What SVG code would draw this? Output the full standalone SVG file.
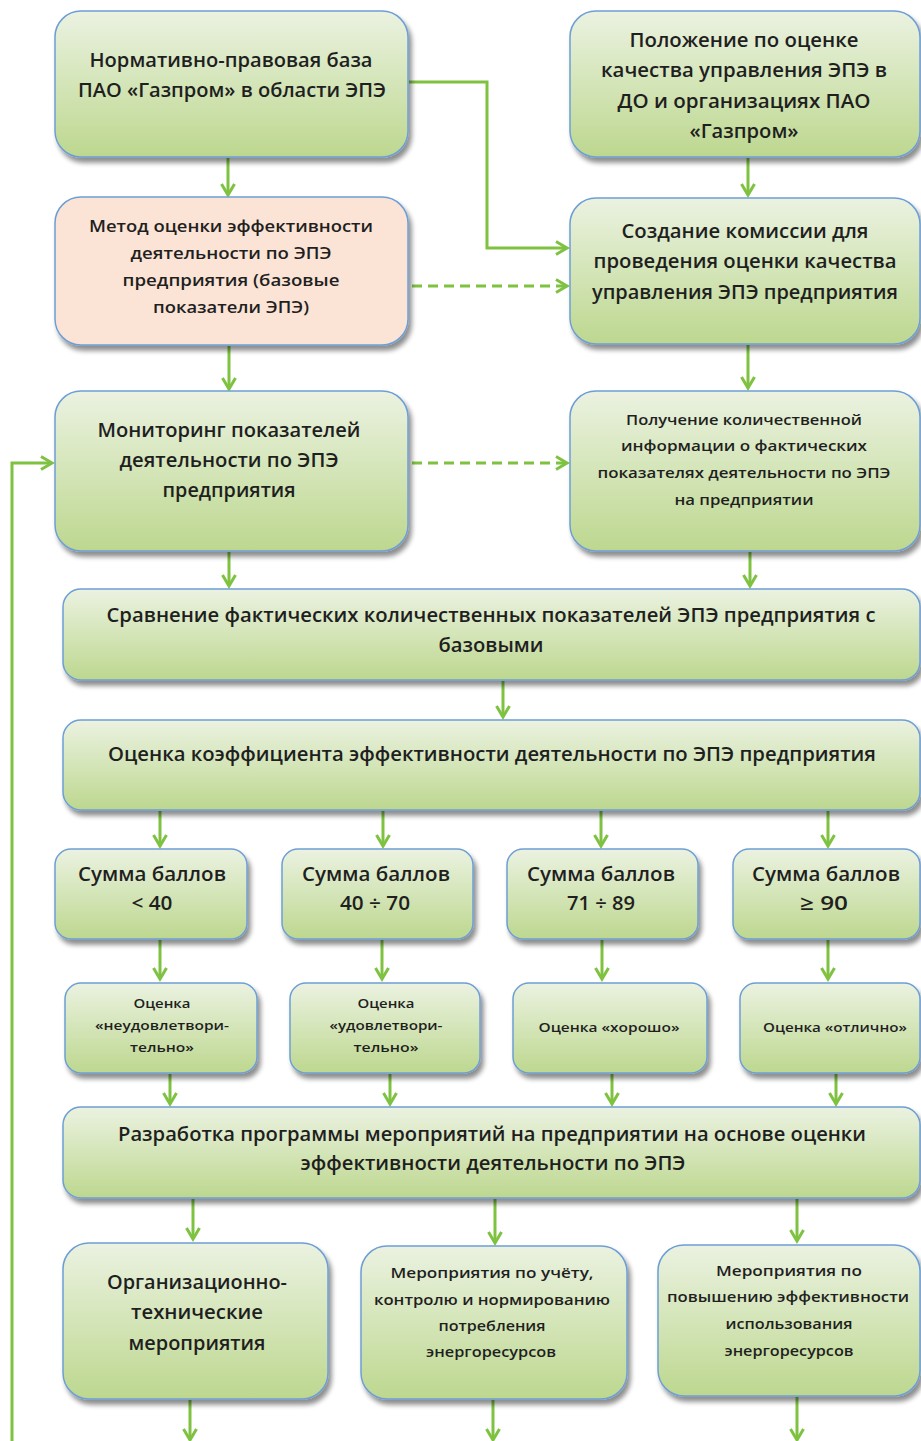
<svg xmlns="http://www.w3.org/2000/svg" width="921" height="1441" viewBox="0 0 921 1441">
<defs>
<linearGradient id="g" x1="0" y1="0" x2="0" y2="1">
<stop offset="0" stop-color="#ebf2e1"/>
<stop offset="0.5" stop-color="#d4e5b8"/>
<stop offset="1" stop-color="#bdd78f"/>
</linearGradient>
<filter id="sh" x="-10%" y="-10%" width="125%" height="135%">
<feGaussianBlur in="SourceAlpha" stdDeviation="2.5"/>
<feOffset dx="3" dy="5" result="b"/>
<feComponentTransfer><feFuncA type="linear" slope="0.45"/></feComponentTransfer>
<feMerge><feMergeNode/><feMergeNode in="SourceGraphic"/></feMerge>
</filter>
<marker id="ah" markerUnits="userSpaceOnUse" markerWidth="18" markerHeight="18" refX="13" refY="8" orient="auto">
<path d="M2,1.5 L13,8 L2,14.5" fill="none" stroke="#7fc241" stroke-width="3" stroke-linejoin="miter"/>
</marker>
</defs>
<style>
.n{fill:url(#g);stroke:#6d9fd5;stroke-width:1.5;filter:url(#sh)}
.p{fill:#fbe4d6;stroke:#6d9fd5;stroke-width:1.5;filter:url(#sh)}
.c{fill:none;stroke:#7fc241;stroke-width:3;marker-end:url(#ah)}
.d{stroke-dasharray:10,6}
text{font-family:"Open Sans","Noto Sans",sans-serif;font-weight:600;fill:#1f1f1f;text-anchor:middle}
.f19{font-size:19px}
.f16{font-size:16px}
.f14{font-size:14px}
.f15{font-size:15px}
.f12{font-size:12px}
.f20{font-size:20px}
</style>

<g id="connectors">
<path class="c" d="M228,158 L228,195"/>
<path class="c" d="M748,158 L748,195"/>
<path class="c" d="M409,82 L487,82 L487,248 L567,248"/>
<path class="c d" d="M412,286 L567,286"/>
<path class="c" d="M229,346 L229,389"/>
<path class="c" d="M748,345 L748,388"/>
<path class="c" d="M12,1441 L12,463 L52,463"/>
<path class="c d" d="M412,463 L567,463"/>
<path class="c" d="M229,552 L229,586"/>
<path class="c" d="M750,552 L750,586"/>
<path class="c" d="M503,681 L503,717"/>
<path class="c" d="M160,811 L160,846"/>
<path class="c" d="M383,811 L383,846"/>
<path class="c" d="M601,811 L601,846"/>
<path class="c" d="M828,811 L828,846"/>
<path class="c" d="M160,940 L160,979"/>
<path class="c" d="M382,940 L382,979"/>
<path class="c" d="M602,940 L602,979"/>
<path class="c" d="M828,940 L828,979"/>
<path class="c" d="M170,1074 L170,1104"/>
<path class="c" d="M390,1074 L390,1104"/>
<path class="c" d="M612,1074 L612,1104"/>
<path class="c" d="M836,1074 L836,1104"/>
<path class="c" d="M193,1199 L193,1239"/>
<path class="c" d="M495,1199 L495,1243"/>
<path class="c" d="M797,1199 L797,1241"/>
<path class="c" d="M190,1400 L190,1440"/>
<path class="c" d="M493,1400 L493,1440"/>
<path class="c" d="M797,1397 L797,1440"/>
</g>

<g id="n1">
<rect class="n" x="55" y="11" width="353" height="146" rx="26"/>
<text class="f19" x="231" y="67" textLength="283" lengthAdjust="spacingAndGlyphs">Нормативно-правовая база</text>
<text class="f19" x="232" y="97" textLength="308" lengthAdjust="spacingAndGlyphs">ПАО «Газпром» в области ЭПЭ</text>
</g>
<g id="n2">
<rect class="n" x="570" y="11" width="350" height="146" rx="26"/>
<text class="f19" x="744" y="47" textLength="229" lengthAdjust="spacingAndGlyphs">Положение по оценке</text>
<text class="f19" x="744" y="77" textLength="286" lengthAdjust="spacingAndGlyphs">качества управления ЭПЭ в</text>
<text class="f19" x="744" y="108" textLength="253" lengthAdjust="spacingAndGlyphs">ДО и организациях ПАО</text>
<text class="f19" x="744" y="138" textLength="109" lengthAdjust="spacingAndGlyphs">«Газпром»</text>
</g>
<g id="n3">
<rect class="p" x="55" y="197" width="353" height="148" rx="26"/>
<text class="f16" x="231" y="232" textLength="284" lengthAdjust="spacingAndGlyphs">Метод оценки эффективности</text>
<text class="f16" x="231" y="259" textLength="201" lengthAdjust="spacingAndGlyphs">деятельности по ЭПЭ</text>
<text class="f16" x="231" y="286" textLength="217" lengthAdjust="spacingAndGlyphs">предприятия (базовые</text>
<text class="f16" x="231" y="313" textLength="156" lengthAdjust="spacingAndGlyphs">показатели ЭПЭ)</text>
</g>
<g id="n4">
<rect class="n" x="570" y="198" width="350" height="146" rx="26"/>
<text class="f19" x="745" y="238" textLength="247" lengthAdjust="spacingAndGlyphs">Создание комиссии для</text>
<text class="f19" x="745" y="268" textLength="303" lengthAdjust="spacingAndGlyphs">проведения оценки качества</text>
<text class="f19" x="745" y="299" textLength="306" lengthAdjust="spacingAndGlyphs">управления ЭПЭ предприятия</text>
</g>
<g id="n5">
<rect class="n" x="55" y="391" width="353" height="160" rx="26"/>
<text class="f19" x="229" y="437" textLength="263" lengthAdjust="spacingAndGlyphs">Мониторинг показателей</text>
<text class="f19" x="229" y="467" textLength="219" lengthAdjust="spacingAndGlyphs">деятельности по ЭПЭ</text>
<text class="f19" x="229" y="497" textLength="133" lengthAdjust="spacingAndGlyphs">предприятия</text>
</g>
<g id="n6">
<rect class="n" x="570" y="391" width="350" height="160" rx="26"/>
<text class="f14" x="744" y="425" textLength="236" lengthAdjust="spacingAndGlyphs">Получение количественной</text>
<text class="f14" x="744" y="451" textLength="246" lengthAdjust="spacingAndGlyphs">информации о фактических</text>
<text class="f14" x="744" y="478" textLength="293" lengthAdjust="spacingAndGlyphs">показателях деятельности по ЭПЭ</text>
<text class="f14" x="744" y="505" textLength="139" lengthAdjust="spacingAndGlyphs">на предприятии</text>
</g>
<g id="n7">
<rect class="n" x="63" y="589" width="857" height="91" rx="18"/>
<text class="f19" x="491" y="622" textLength="769" lengthAdjust="spacingAndGlyphs">Сравнение фактических количественных показателей ЭПЭ предприятия с</text>
<text class="f19" x="491" y="652" textLength="105" lengthAdjust="spacingAndGlyphs">базовыми</text>
</g>
<g id="n8">
<rect class="n" x="63" y="720" width="857" height="90" rx="18"/>
<text class="f19" x="492" y="761" textLength="768" lengthAdjust="spacingAndGlyphs">Оценка коэффициента эффективности деятельности по ЭПЭ предприятия</text>
</g>
<g id="s1">
<rect class="n" x="55" y="849" width="192" height="90" rx="16"/>
<text class="f20" x="152" y="881" textLength="148" lengthAdjust="spacingAndGlyphs">Сумма баллов</text>
<text class="f20" x="152" y="910" textLength="41" lengthAdjust="spacingAndGlyphs">&lt; 40</text>
</g>
<g id="s2">
<rect class="n" x="282" y="849" width="191" height="90" rx="16"/>
<text class="f20" x="376" y="881" textLength="148" lengthAdjust="spacingAndGlyphs">Сумма баллов</text>
<text class="f20" x="375" y="910" textLength="70" lengthAdjust="spacingAndGlyphs">40 ÷ 70</text>
</g>
<g id="s3">
<rect class="n" x="507" y="849" width="191" height="90" rx="16"/>
<text class="f20" x="601" y="881" textLength="148" lengthAdjust="spacingAndGlyphs">Сумма баллов</text>
<text class="f20" x="601" y="910" textLength="68" lengthAdjust="spacingAndGlyphs">71 ÷ 89</text>
</g>
<g id="s4">
<rect class="n" x="733" y="849" width="187" height="90" rx="16"/>
<text class="f20" x="826" y="881" textLength="148" lengthAdjust="spacingAndGlyphs">Сумма баллов</text>
<text class="f20" x="824" y="910" textLength="48" lengthAdjust="spacingAndGlyphs">≥ 90</text>
</g>
<g id="o1">
<rect class="n" x="65" y="983" width="192" height="90" rx="16"/>
<text class="f12" x="162" y="1008" textLength="57" lengthAdjust="spacingAndGlyphs">Оценка</text>
<text class="f12" x="162" y="1030" textLength="134" lengthAdjust="spacingAndGlyphs">«неудовлетвори-</text>
<text class="f12" x="162" y="1052" textLength="64" lengthAdjust="spacingAndGlyphs">тельно»</text>
</g>
<g id="o2">
<rect class="n" x="290" y="983" width="190" height="90" rx="16"/>
<text class="f12" x="386" y="1008" textLength="57" lengthAdjust="spacingAndGlyphs">Оценка</text>
<text class="f12" x="386" y="1030" textLength="113" lengthAdjust="spacingAndGlyphs">«удовлетвори-</text>
<text class="f12" x="386" y="1052" textLength="65" lengthAdjust="spacingAndGlyphs">тельно»</text>
</g>
<g id="o3">
<rect class="n" x="513" y="983" width="194" height="90" rx="16"/>
<text class="f12" x="609" y="1032" textLength="141" lengthAdjust="spacingAndGlyphs">Оценка «хорошо»</text>
</g>
<g id="o4">
<rect class="n" x="740" y="983" width="180" height="90" rx="16"/>
<text class="f12" x="835" y="1032" textLength="144" lengthAdjust="spacingAndGlyphs">Оценка «отлично»</text>
</g>
<g id="n9">
<rect class="n" x="63" y="1107" width="857" height="91" rx="18"/>
<text class="f19" x="492" y="1141" textLength="748" lengthAdjust="spacingAndGlyphs">Разработка программы мероприятий на предприятии на основе оценки</text>
<text class="f19" x="493" y="1170" textLength="385" lengthAdjust="spacingAndGlyphs">эффективности деятельности по ЭПЭ</text>
</g>
<g id="b1">
<rect class="n" x="63" y="1243" width="265" height="156" rx="26"/>
<text class="f19" x="197" y="1289" textLength="180" lengthAdjust="spacingAndGlyphs">Организационно-</text>
<text class="f19" x="197" y="1319" textLength="132" lengthAdjust="spacingAndGlyphs">технические</text>
<text class="f19" x="197" y="1350" textLength="137" lengthAdjust="spacingAndGlyphs">мероприятия</text>
</g>
<g id="b2">
<rect class="n" x="361" y="1246" width="266" height="153" rx="26"/>
<text class="f15" x="492" y="1278" textLength="203" lengthAdjust="spacingAndGlyphs">Мероприятия по учёту,</text>
<text class="f15" x="492" y="1305" textLength="236" lengthAdjust="spacingAndGlyphs">контролю и нормированию</text>
<text class="f15" x="492" y="1331" textLength="107" lengthAdjust="spacingAndGlyphs">потребления</text>
<text class="f15" x="491" y="1357" textLength="130" lengthAdjust="spacingAndGlyphs">энергоресурсов</text>
</g>
<g id="b3">
<rect class="n" x="658" y="1245" width="262" height="151" rx="26"/>
<text class="f15" x="789" y="1276" textLength="146" lengthAdjust="spacingAndGlyphs">Мероприятия по</text>
<text class="f15" x="788" y="1302" textLength="242" lengthAdjust="spacingAndGlyphs">повышению эффективности</text>
<text class="f15" x="789" y="1329" textLength="127" lengthAdjust="spacingAndGlyphs">использования</text>
<text class="f15" x="789" y="1356" textLength="129" lengthAdjust="spacingAndGlyphs">энергоресурсов</text>
</g>
</svg>
